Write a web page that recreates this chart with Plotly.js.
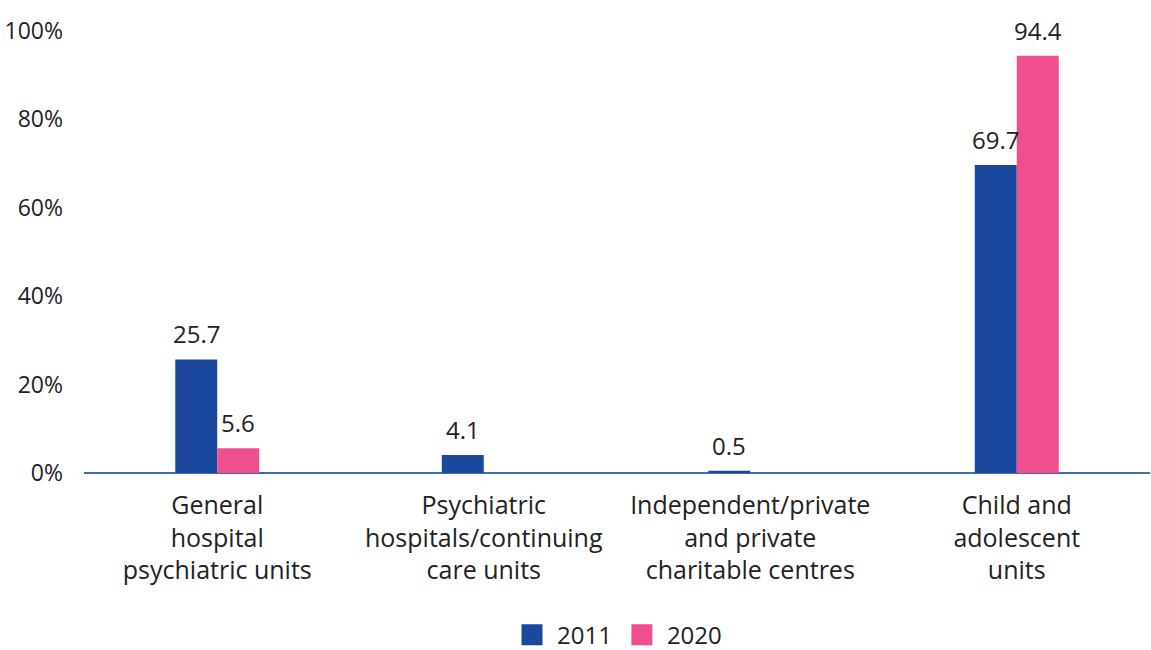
<!DOCTYPE html>
<html>
<head>
<meta charset="utf-8">
<script src="https://cdn.plot.ly/plotly-3.0.1.min.js"></script>
<style>html,body{margin:0;padding:0;background:#fff;}#chart{width:1151px;height:650px;}</style>
</head>
<body>
<div id="chart"></div>
<script>
const categories = [
  "General<br>hospital<br>psychiatric units",
  "Psychiatric<br>hospitals/continuing<br>care units",
  "Independent/private<br>and private<br>charitable centres",
  "Child and<br>adolescent<br>units"
];
const values2011 = [25.7, 4.1, 0.5, 69.7];
const values2020 = [5.6, null, null, 94.4];
const seriesNames = ["2011", "2020"];
const yTickVals = [0, 20, 40, 60, 80, 100];
const yTickText = ["0%", "20%", "40%", "60%", "80%", "100%"];

const colors = ["#1a489f", "#f04e8f"];
const FONT = "'Open Sans', Lato, sans-serif";
const TXT = "#222222";

const series = [values2011, values2020];
const traces = series.map((vals, i) => ({
  type: "bar",
  x: categories,
  y: vals,
  name: seriesNames[i],
  marker: {color: colors[i]},
  showlegend: false,
  hoverinfo: "skip"
}));
// legend-only swatches
seriesNames.forEach((n, i) => {
  traces.push({
    type: "scatter", mode: "markers", x: [null], y: [null], name: n,
    marker: {symbol: "square", size: 16, color: colors[i], line: {color: colors[i], width: 5}},
    showlegend: true, hoverinfo: "skip"
  });
});

const annotations = [];
series.forEach((vals, i) => {
  vals.forEach((v, j) => {
    if (v === null) return;
    annotations.push({
      x: categories[j], y: v, xref: "x", yref: "y",
      text: v.toFixed(1), showarrow: false,
      xanchor: "center", yanchor: "bottom",
      xshift: i === 0 ? -21 : 21, yshift: 7,
      font: {family: FONT, size: 24, color: TXT}
    });
  });
});

const layout = {
  width: 1151, height: 650,
  margin: {l: 84, r: 1, t: 31, b: 177},
  paper_bgcolor: "#fff", plot_bgcolor: "#fff",
  barmode: "group", bargap: 0.685, bargroupgap: 0,
  font: {family: FONT, size: 22, color: TXT},
  xaxis: {
    automargin: false,
    showgrid: false, zeroline: false, showline: false, ticks: "",
    tickfont: {family: FONT, size: 25, color: TXT},
    ticklabelstandoff: 15
  },
  yaxis: {
    automargin: false,
    range: [0, 100], showgrid: false, zeroline: true, zerolinecolor: "#3d6db5", zerolinewidth: 1.5,
    showline: false, ticks: "", tickvals: yTickVals, ticktext: yTickText,
    tickfont: {family: FONT, size: 23, color: TXT}, ticklabelstandoff: 20
  },
  showlegend: true,
  legend: {orientation: "h", x: 0.5, xanchor: "center", xref: "paper",
    yref: "container", y: 0.023, yanchor: "middle",
    font: {family: FONT, size: 24, color: TXT}, itemwidth: 40},
  annotations: annotations
};

Plotly.newPlot("chart", traces, layout, {staticPlot: true, displayModeBar: false});
</script>
</body>
</html>
